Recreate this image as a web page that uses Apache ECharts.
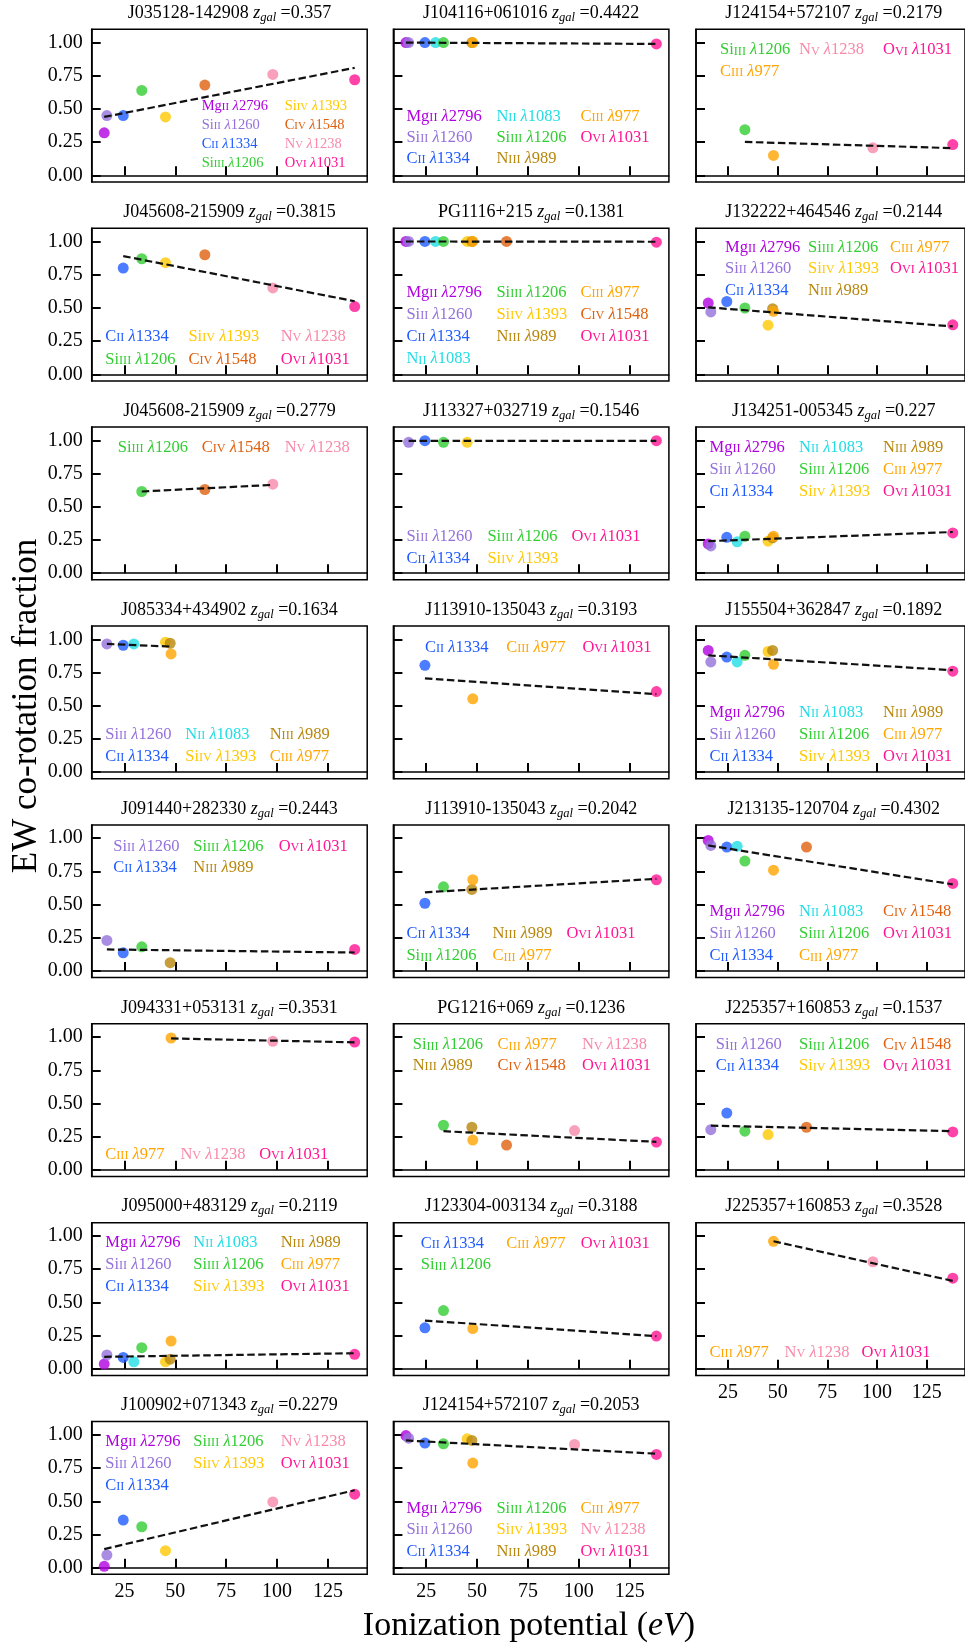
<!DOCTYPE html>
<html><head><meta charset="utf-8">
<script src="https://cdn.jsdelivr.net/npm/echarts@6/dist/echarts.min.js"></script>
<style>html,body{margin:0;padding:0;background:#fff}#c{width:965px;height:1644px}</style>
</head><body><div id="c"></div>
<script>
// ---------- ion reference data ----------
const ION_KEYS    = ['MgII','SiII','CII','NII','SiIII','SiIV','NIII','CIII','CIV','NV','OVI'];
const ION_ELEMENT = ['Mg','Si','C','N','Si','Si','N','C','C','N','O'];
const ION_STAGE   = ['II','II','II','II','III','IV','III','III','IV','V','VI'];
const ION_WAVE    = ['2796','1260','1334','1083','1206','1393','989','977','1548','1238','1031'];
const ION_IP      = [15.04,16.35,24.38,29.60,33.49,45.14,47.45,47.89,64.49,97.89,138.12];
const ION_COLOR   = ['#b000e0','#9370db','#1f5bff','#20dde5','#32cd32','#ffc800','#b8860b','#ffa500','#e0600e','#f889aa','#ff1493'];

// ---------- panels (column-major order) ----------
const QSO_NAMES = ['J035128-142908','J045608-215909','J045608-215909','J085334+434902','J091440+282330','J094331+053131','J095000+483129','J100902+071343',
  'J104116+061016','PG1116+215','J113327+032719','J113910-135043','J113910-135043','PG1216+069','J123304-003134','J124154+572107',
  'J124154+572107','J132222+464546','J134251-005345','J155504+362847','J213135-120704','J225357+160853','J225357+160853'];
const Z_GAL = ['0.357','0.3815','0.2779','0.1634','0.2443','0.3531','0.2119','0.2279',
  '0.4422','0.1381','0.1546','0.3193','0.2042','0.1236','0.3188','0.2053',
  '0.2179','0.2144','0.227','0.1892','0.4302','0.1537','0.3528'];

const PANEL_IONS = [
  ['MgII','SiII','CII','SiIII','SiIV','CIV','NV','OVI'],
  ['CII','SiIII','SiIV','CIV','NV','OVI'],
  ['SiIII','CIV','NV'],
  ['SiII','CII','NII','SiIV','NIII','CIII'],
  ['SiII','CII','SiIII','NIII','OVI'],
  ['CIII','NV','OVI'],
  ['MgII','SiII','CII','NII','SiIII','SiIV','NIII','CIII','OVI'],
  ['MgII','SiII','CII','SiIII','SiIV','NV','OVI'],
  ['MgII','SiII','CII','NII','SiIII','NIII','CIII','OVI'],
  ['MgII','SiII','CII','NII','SiIII','SiIV','NIII','CIII','CIV','OVI'],
  ['SiII','CII','SiIII','SiIV','OVI'],
  ['CII','CIII','OVI'],
  ['CII','SiIII','NIII','CIII','OVI'],
  ['SiIII','NIII','CIII','CIV','NV','OVI'],
  ['CII','SiIII','CIII','OVI'],
  ['MgII','SiII','CII','SiIII','SiIV','NIII','CIII','NV','OVI'],
  ['SiIII','CIII','NV','OVI'],
  ['MgII','SiII','CII','SiIII','SiIV','NIII','CIII','OVI'],
  ['MgII','SiII','CII','NII','SiIII','SiIV','NIII','CIII','OVI'],
  ['MgII','SiII','CII','NII','SiIII','SiIV','NIII','CIII','OVI'],
  ['MgII','SiII','CII','NII','SiIII','CIII','CIV','OVI'],
  ['SiII','CII','SiIII','SiIV','CIV','OVI'],
  ['CIII','NV','OVI']
];
const PANEL_VALUES = [
  [0.32,0.45,0.45,0.64,0.44,0.68,0.76,0.72],
  [0.80,0.87,0.84,0.90,0.65,0.51],
  [0.615,0.63,0.67],
  [0.965,0.955,0.965,0.978,0.97,0.89],
  [0.23,0.137,0.182,0.062,0.162],
  [0.993,0.968,0.963],
  [0.035,0.104,0.085,0.052,0.159,0.052,0.072,0.209,0.109],
  [0.01,0.095,0.358,0.308,0.128,0.495,0.553],
  [1.0,1.0,1.0,1.0,1.0,1.0,1.0,0.99],
  [1.0,1.0,1.0,1.0,1.0,1.0,1.0,1.0,1.0,0.995],
  [0.985,0.998,0.985,0.985,0.998],
  [0.804,0.552,0.606],
  [0.51,0.634,0.614,0.687,0.687],
  [0.336,0.321,0.224,0.187,0.296,0.209],
  [0.308,0.438,0.303,0.246],
  [0.995,0.975,0.938,0.933,0.97,0.958,0.788,0.928,0.853],
  [0.344,0.15,0.207,0.232],
  [0.536,0.469,0.548,0.499,0.37,0.494,0.474,0.372],
  [0.22,0.205,0.27,0.236,0.278,0.241,0.266,0.278,0.303],
  [0.916,0.829,0.866,0.829,0.879,0.908,0.916,0.812,0.76],
  [0.983,0.945,0.933,0.94,0.828,0.759,0.933,0.659],
  [0.303,0.428,0.291,0.266,0.321,0.286],
  [0.96,0.806,0.682]
];
// linear-fit line values at the lowest and highest ionization potential of each panel
const FIT_START = [0.44,0.89,0.615,0.965,0.162,0.99,0.09,0.14,1.0,1.0,0.997,0.705,0.592,0.291,0.363,0.958,0.252,0.504,0.241,0.879,0.945,0.333,0.96];
const FIT_END   = [0.81,0.55,0.665,0.945,0.139,0.96,0.117,0.583,0.99,0.998,0.997,0.587,0.694,0.211,0.246,0.858,0.205,0.36,0.31,0.767,0.652,0.291,0.662];

const X_TICKS = [25,50,75,100,125];
const Y_TICKS = [0,0.25,0.5,0.75,1.0];

// ---------- layout (positions / styles only) ----------
const COL_X = [91.7, 393.4, 696], ROW_Y0 = 29.3, ROW_STEP = 198.9, PW = 275.5, PH = 152.7;
// [ncol, column x offsets, first row y offset, row spacing, font size]
const LEG = [
  [2,[110,193],76.7,19,14.5],
  [3,[13.6,96.7,189],108.7,22.3,16.5],
  [3,[26,110,193],20.6,22,16.5],
  [3,[13.6,93.6,178],108.3,22.4,16.5],
  [3,[21.6,101.6,187],21.8,21,16.5],
  [3,[13.6,88.7,167.5],130.5,22,16.5],
  [3,[13.6,101.6,189],19.6,22.2,16.5],
  [3,[13.6,101.6,189],20,22,16.5],
  [3,[13,103,187],87.4,20.8,16.5],
  [3,[13,103,187],64.5,22.1,16.5],
  [3,[13,94,178],109.6,21.6,16.5],
  [3,[31.6,112.8,189],21.3,22,16.5],
  [3,[13,99,173],108.4,22.7,16.5],
  [3,[19.3,104.2,188.5],21.2,20.7,16.5],
  [3,[27.3,112.8,187.3],20.6,21.7,16.5],
  [3,[13,103,187],86.6,21.7,16.5],
  [3,[24,103,187],20.7,21.7,16.5],
  [3,[29,112,194],19,21.5,16.5],
  [3,[13.5,103,187],20.2,22.2,16.5],
  [3,[13.5,103,187],86.3,22.2,16.5],
  [3,[13.5,103,187],86.8,22.2,16.5],
  [3,[19.7,103,187],21.2,21,16.5],
  [3,[13.5,88.6,165.5],129.6,22,16.5]
];
const FONT = 'Liberation Serif';

const grids = [], xAxes = [], yAxes = [], series = [], graphics = [];
for (let i = 0; i < PANEL_IONS.length; i++) {
  const col = Math.floor(i / 8), row = i % 8;
  const left = COL_X[col], top = ROW_Y0 + row * ROW_STEP;
  grids.push({left, top, width: PW, height: PH, show: true, borderColor: '#000', borderWidth: 1.5, backgroundColor: 'transparent'});
  const showX = (col < 2 && row === 7) || (col === 2 && row === 6);
  xAxes.push({type: 'value', gridIndex: i, min: 8.886, max: 144.27,
    axisLine: {show: true, lineStyle: {color: '#000', width: 1.5}},
    axisTick: {show: true, inside: true, length: 9, lineStyle: {color: '#000', width: 2}, customValues: X_TICKS},
    axisLabel: {show: showX, customValues: X_TICKS, color: '#000', fontFamily: FONT, fontSize: 20, margin: 7},
    splitLine: {show: false}});
  yAxes.push({type: 'value', gridIndex: i, min: -0.05, max: 1.1,
    axisLine: {show: true, lineStyle: {color: '#000', width: 1.5}},
    axisTick: {show: true, inside: true, length: 9, lineStyle: {color: '#000', width: 2}, customValues: Y_TICKS},
    axisLabel: {show: col === 0, customValues: Y_TICKS, color: '#000', fontFamily: FONT, fontSize: 20, margin: 9,
      formatter: v => v.toFixed(2)},
    splitLine: {show: false}});

  const ions = PANEL_IONS[i], vals = PANEL_VALUES[i];
  const pts = ions.map((k, j) => {
    const idx = ION_KEYS.indexOf(k);
    return {value: [ION_IP[idx], vals[j]], itemStyle: {color: ION_COLOR[idx]}};
  });
  series.push({type: 'scatter', xAxisIndex: i, yAxisIndex: i, data: pts, symbol: 'circle', symbolSize: 11, z: 2, silent: true});
  const ips = ions.map(k => ION_IP[ION_KEYS.indexOf(k)]);
  series.push({type: 'line', xAxisIndex: i, yAxisIndex: i, symbol: 'none', z: 3, silent: true,
    lineStyle: {color: '#111', width: 2.2, type: [7.5, 3.5]},
    data: [[Math.min(...ips), FIT_START[i]], [Math.max(...ips), FIT_END[i]]]});

  // title
  graphics.push({type: 'text', x: left + PW / 2, y: top - 16, silent: true, z: 10,
    style: {text: `{n|${QSO_NAMES[i]} }{z|z}{s|gal}{n| =${Z_GAL[i]}}`, align: 'center', verticalAlign: 'middle',
      rich: {
        n: {fontFamily: FONT, fontSize: 18, fill: '#000', lineHeight: 22},
        z: {fontFamily: FONT, fontSize: 18, fontStyle: 'italic', fill: '#000', lineHeight: 22},
        s: {fontFamily: FONT, fontSize: 12.5, fontStyle: 'italic', fill: '#000', lineHeight: 12, verticalAlign: 'bottom'}
      }}});

  // legend-like coloured labels (roman numerals as small capitals on the baseline)
  const [ncol, xs, y0, dy, fs] = LEG[i];
  const n = ions.length, base = Math.floor(n / ncol), large = n % ncol;
  let k = 0;
  for (let c = 0; c < ncol; c++) {
    const rowsHere = base + (c < large ? 1 : 0);
    for (let r = 0; r < rowsHere; r++, k++) {
      const idx = ION_KEYS.indexOf(ions[k]);
      const color = ION_COLOR[idx];
      graphics.push({type: 'text', x: left + xs[c], y: top + y0 + r * dy, silent: true, z: 10,
        style: {text: `{e|${ION_ELEMENT[idx]}}{s|${ION_STAGE[idx]}}{e| }{l|λ}{e|${ION_WAVE[idx]}}`,
          align: 'left', verticalAlign: 'middle',
          rich: {
            e: {fontFamily: FONT, fontSize: fs, fill: color},
            s: {fontFamily: FONT, fontSize: fs * 0.74, fill: color, padding: [fs * 0.16, 0, 0, 0]},
            l: {fontFamily: FONT, fontSize: fs, fontStyle: 'italic', fill: color}
          }}});
    }
  }
}

// axis titles
graphics.push({type: 'text', x: 529, y: 1626, silent: true, z: 10,
  style: {text: '{n|Ionization potential (}{i|eV}{n|)}', align: 'center', verticalAlign: 'middle',
    rich: {n: {fontFamily: FONT, fontSize: 34, fill: '#000'}, i: {fontFamily: FONT, fontSize: 34, fontStyle: 'italic', fill: '#000'}}}});
graphics.push({type: 'text', x: 27, y: 706, rotation: Math.PI / 2, silent: true, z: 10,
  style: {text: 'EW co-rotation fraction', fontFamily: FONT, fontSize: 35, fill: '#000', align: 'center', verticalAlign: 'middle'}});

const chart = echarts.init(document.getElementById('c'), null, {renderer: 'canvas', width: 965, height: 1644});
chart.setOption({
  backgroundColor: '#fff',
  animation: false,
  grid: grids, xAxis: xAxes, yAxis: yAxes, series: series, graphic: graphics
});
</script>
</body></html>
